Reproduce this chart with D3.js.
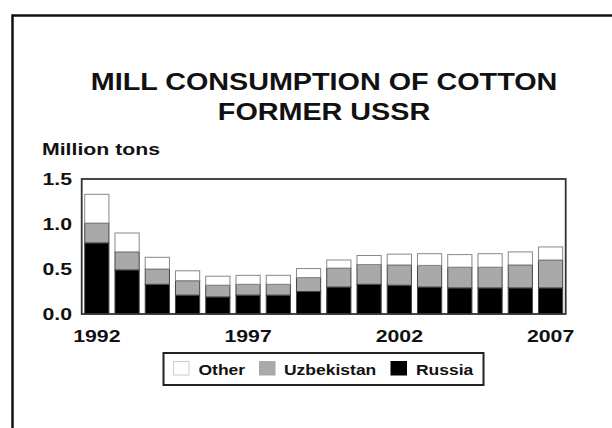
<!DOCTYPE html>
<html><head><meta charset="utf-8">
<script src="https://cdn.jsdelivr.net/npm/d3@7/dist/d3.min.js"></script>
<style>html,body{margin:0;padding:0;background:#fff;}</style>
</head><body>
<script>
const years = [1992,1993,1994,1995,1996,1997,1998,1999,2000,2001,2002,2003,2004,2005,2006,2007];
const russia = [0.79,0.49,0.33,0.21,0.19,0.21,0.21,0.25,0.30,0.33,0.32,0.30,0.29,0.29,0.29,0.29];
const uzbekistan = [0.22,0.20,0.17,0.16,0.13,0.12,0.12,0.155,0.21,0.22,0.225,0.24,0.23,0.23,0.255,0.31];
const other = [0.32,0.21,0.13,0.11,0.10,0.10,0.10,0.10,0.09,0.10,0.12,0.13,0.14,0.15,0.145,0.145];
const yTicks = [0, 0.5, 1.0, 1.5];
const xTickYears = [1992, 1997, 2002, 2007];
const seriesNames = ["Russia", "Uzbekistan", "Other"];
const legendOrder = ["Other", "Uzbekistan", "Russia"];

const W = 612, H = 428;
const SX = 1.25; // horizontal stretch of the original lettering
const FONT = "'Liberation Sans', Arial, sans-serif";
const colors = {Russia: "#000", Uzbekistan: "#a9a9a9", Other: "#fff"};

const svg = d3.select("body").append("svg").attr("width", W).attr("height", H)
  .style("display","block").style("background","#fff");

function txt(x, y, s, size, anchor) {
  return svg.append("text")
    .attr("transform", `translate(${x},${y}) scale(${SX},1)`)
    .attr("text-anchor", anchor || "start")
    .style("font-family", FONT).style("font-weight", "bold")
    .style("font-size", size + "px").attr("fill", "#111").text(s);
}

// outer frame (only left and top visible)
svg.append("path").attr("d", `M12.5,${H} V15.5 H${W}`)
  .attr("fill","none").attr("stroke","#111").attr("stroke-width",2.5);

// titles
txt(324, 90, "MILL CONSUMPTION OF COTTON", 23, "middle");
txt(324, 120, "FORMER USSR", 23, "middle");
txt(42, 155, "Million tons", 17, "start");

const plot = {l: 81.7, r: 565.7, t: 179, b: 314};
const x = d3.scaleBand().domain(years).range([plot.l, plot.r]).paddingInner(0.2).paddingOuter(0.1);
const y = d3.scaleLinear().domain([0, 1.5]).range([plot.b, plot.t]);

const table = years.map((yr, i) => ({year: yr, Russia: russia[i], Uzbekistan: uzbekistan[i], Other: other[i]}));
const stack = d3.stack().keys(seriesNames)(table);

svg.append("g").selectAll("g").data(stack).join("g")
  .attr("fill", d => colors[d.key])
  .attr("stroke", d => d.key === "Other" ? "#888" : "#444")
  .attr("stroke-width", 1)
  .selectAll("rect").data(d => d).join("rect")
  .attr("x", d => x(d.data.year))
  .attr("width", x.bandwidth())
  .attr("y", d => y(d[1]))
  .attr("height", d => y(d[0]) - y(d[1]));

// plot frame
svg.append("rect").attr("x", plot.l).attr("y", plot.t)
  .attr("width", plot.r - plot.l).attr("height", plot.b - plot.t)
  .attr("fill","none").attr("stroke","#333").attr("stroke-width",1.8);

// y tick labels
yTicks.forEach(v => txt(72, y(v) + 6, d3.format(".1f")(v), 17, "end"));
// x tick labels
xTickYears.forEach(v => txt(x(v) + x.bandwidth()/2, 342, String(v), 17, "middle"));

// legend
svg.append("rect").attr("x",163.5).attr("y",353).attr("width",320).attr("height",32)
  .attr("fill","#fff").attr("stroke","#222").attr("stroke-width",2);
const legendX = {Other: [173.5, 198.5], Uzbekistan: [259.5, 284], Russia: [391, 416]};
legendOrder.forEach(k => {
  svg.append("rect").attr("x", legendX[k][0]).attr("y", 361.5).attr("width", 15.5).attr("height", 13.5)
    .attr("fill", colors[k]).attr("stroke", k === "Other" ? "#ccc" : colors[k]).attr("stroke-width", 1);
  txt(legendX[k][1], 375, k, 14, "start");
});
</script>
</body></html>
